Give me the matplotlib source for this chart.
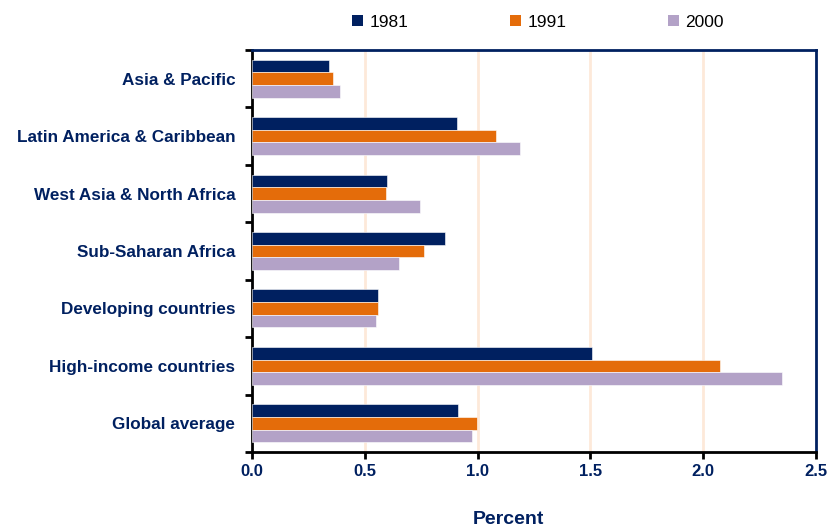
import numpy as np
import matplotlib.pyplot as plt
from matplotlib.patches import Patch

plt.rcParams['font.family'] = ['Liberation Sans', 'DejaVu Sans']

regions = ['Asia & Pacific', 'Latin America & Caribbean', 'West Asia & North Africa',
           'Sub-Saharan Africa', 'Developing countries', 'High-income countries',
           'Global average']
years = ['1981', '1991', '2000']
v1981 = [0.34, 0.91, 0.60, 0.855, 0.557, 1.505, 0.912]
v1991 = [0.36, 1.08, 0.594, 0.764, 0.557, 2.075, 0.997]
v2000 = [0.39, 1.19, 0.743, 0.653, 0.55, 2.348, 0.977]

navy = '#002060'
colors = ['#002060', '#E46C0A', '#B3A2C7']

fig = plt.figure(figsize=(8.28, 5.29), dpi=100)
ax = fig.add_axes([0.3043, 0.1456, 0.6812, 0.7599])

y = np.arange(len(regions))
h = 0.22
for i, (vals, c) in enumerate(zip([v1981, v1991, v2000], colors)):
    ax.barh(y + (i - 1) * h, vals, height=h, color=c, edgecolor='white',
            linewidth=0.4, zorder=3)

ax.set_ylim(len(regions) - 0.5, -0.5)
ax.set_xlim(0, 2.5)

# gridlines
for gx in [0.5, 1.0, 1.5, 2.0]:
    ax.axvline(gx, color='#FDE9D9', linewidth=2, zorder=1)

ax.set_xticks([0, 0.5, 1.0, 1.5, 2.0, 2.5])
ax.set_xticklabels(['0.0', '0.5', '1.0', '1.5', '2.0', '2.5'],
                   fontsize=12, fontweight='bold', color=navy)
ax.set_yticks(np.arange(len(regions) + 1) - 0.5, minor=False)
ax.set_yticklabels([])
ax.set_yticks(y, minor=True)
ax.set_yticklabels(regions, minor=True, fontsize=12.3, fontweight='bold', color=navy)
ax.tick_params(axis='y', which='minor', length=0, pad=12)
ax.tick_params(axis='y', which='major', length=5, width=2, direction='out', color='black')
ax.tick_params(axis='x', length=5, width=2, direction='out', color='black', pad=4)

ax.spines['left'].set_color('black')
ax.spines['left'].set_linewidth(2)
ax.spines['bottom'].set_color('black')
ax.spines['bottom'].set_linewidth(2)
ax.spines['top'].set_color(navy)
ax.spines['top'].set_linewidth(2)
ax.spines['right'].set_color(navy)
ax.spines['right'].set_linewidth(2)

ax.set_xlabel('Percent', fontsize=14, fontweight='bold', color=navy)
ax.xaxis.set_label_coords(0.454, -0.146)

handles = [Patch(facecolor=c, edgecolor='none') for c in colors]
fig.legend(handles, years, loc='upper center', bbox_to_anchor=(0.65, 1.002), ncol=3,
           frameon=False, fontsize=12.5, handlelength=0.6, handleheight=0.6,
           handletextpad=0.4, columnspacing=5.85)

fig.savefig('out.png', dpi=100)
